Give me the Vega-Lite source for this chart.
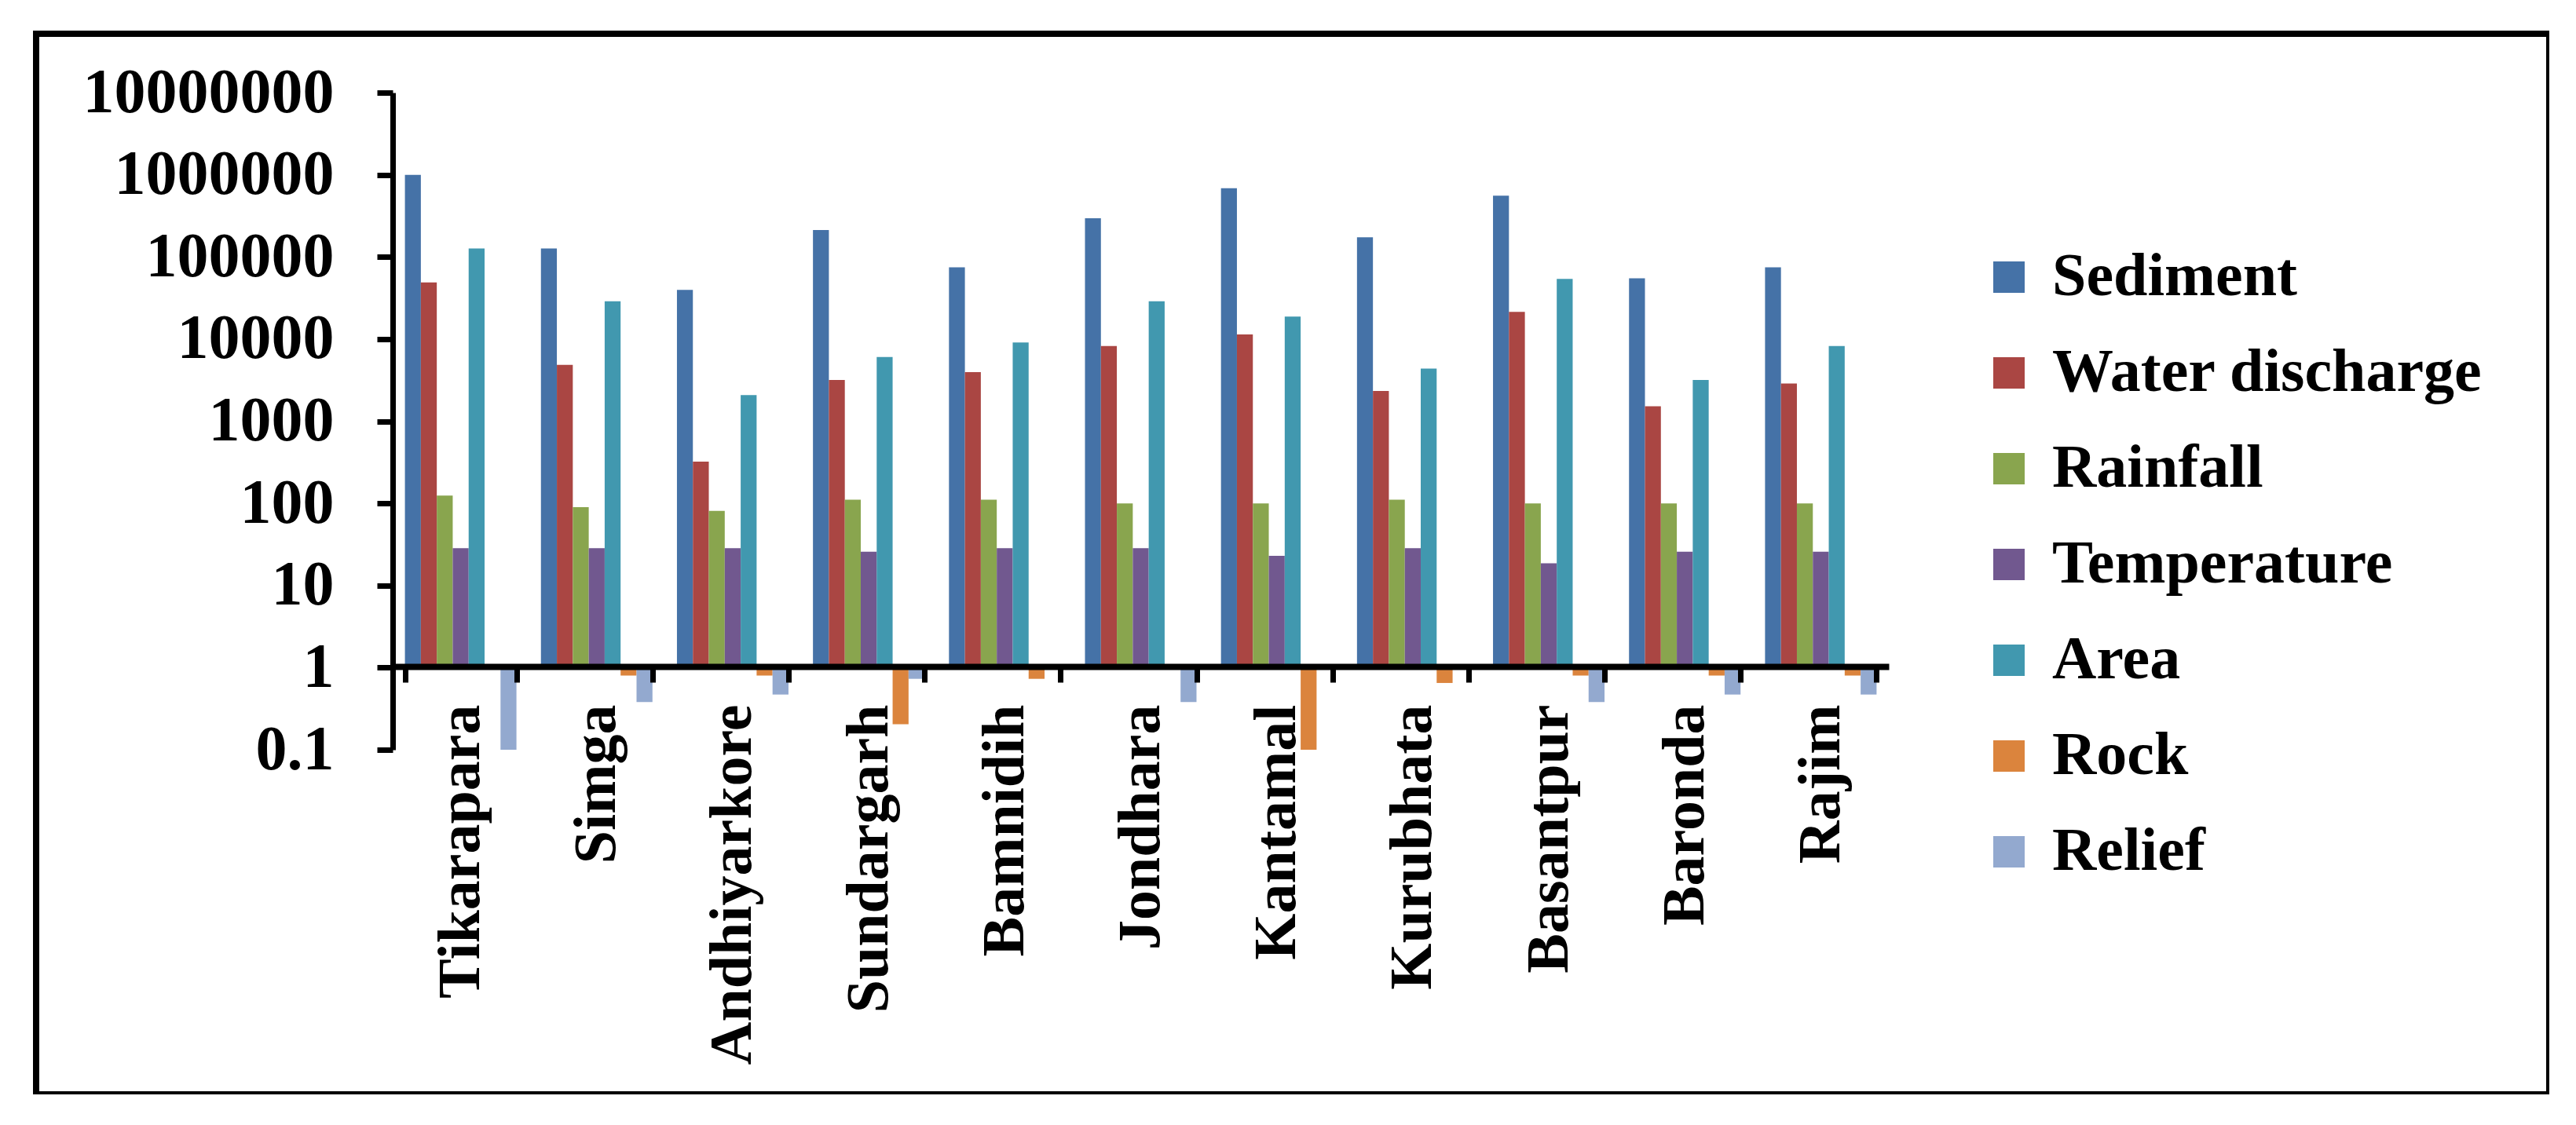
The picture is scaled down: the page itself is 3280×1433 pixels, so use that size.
{
  "$schema": "https://vega.github.io/schema/vega-lite/v6.json",
  "width": 3200,
  "height": 1351,
  "autosize": {"type": "none"},
  "padding": {"left": 46, "top": 43, "right": 0, "bottom": 0},
  "background": "white",
  "config": {"view": {"stroke": "black", "strokeWidth": 8}, "font": "Liberation Serif"},
  "data": {"values": [
    {"station": "Tikarapara", "series": "Sediment", "value": 1000000},
    {"station": "Tikarapara", "series": "Water discharge", "value": 49000},
    {"station": "Tikarapara", "series": "Rainfall", "value": 124},
    {"station": "Tikarapara", "series": "Temperature", "value": 28.5},
    {"station": "Tikarapara", "series": "Area", "value": 127000},
    {"station": "Tikarapara", "series": "Relief", "value": 0.1},
    {"station": "Simga", "series": "Sediment", "value": 127000},
    {"station": "Simga", "series": "Water discharge", "value": 4840},
    {"station": "Simga", "series": "Rainfall", "value": 90},
    {"station": "Simga", "series": "Temperature", "value": 28.5},
    {"station": "Simga", "series": "Area", "value": 28800},
    {"station": "Simga", "series": "Rock", "value": 0.8},
    {"station": "Simga", "series": "Relief", "value": 0.38},
    {"station": "Andhiyarkore", "series": "Sediment", "value": 39600},
    {"station": "Andhiyarkore", "series": "Water discharge", "value": 322},
    {"station": "Andhiyarkore", "series": "Rainfall", "value": 81},
    {"station": "Andhiyarkore", "series": "Temperature", "value": 28.5},
    {"station": "Andhiyarkore", "series": "Area", "value": 2075},
    {"station": "Andhiyarkore", "series": "Rock", "value": 0.8},
    {"station": "Andhiyarkore", "series": "Relief", "value": 0.47},
    {"station": "Sundargarh", "series": "Sediment", "value": 213000},
    {"station": "Sundargarh", "series": "Water discharge", "value": 3170},
    {"station": "Sundargarh", "series": "Rainfall", "value": 111},
    {"station": "Sundargarh", "series": "Temperature", "value": 25.7},
    {"station": "Sundargarh", "series": "Area", "value": 6050},
    {"station": "Sundargarh", "series": "Rock", "value": 0.205},
    {"station": "Sundargarh", "series": "Relief", "value": 0.73},
    {"station": "Bamnidih", "series": "Sediment", "value": 74600},
    {"station": "Bamnidih", "series": "Water discharge", "value": 3965},
    {"station": "Bamnidih", "series": "Rainfall", "value": 111},
    {"station": "Bamnidih", "series": "Temperature", "value": 28.5},
    {"station": "Bamnidih", "series": "Area", "value": 9080},
    {"station": "Bamnidih", "series": "Rock", "value": 0.73},
    {"station": "Jondhara", "series": "Sediment", "value": 295000},
    {"station": "Jondhara", "series": "Water discharge", "value": 8240},
    {"station": "Jondhara", "series": "Rainfall", "value": 100},
    {"station": "Jondhara", "series": "Temperature", "value": 28.5},
    {"station": "Jondhara", "series": "Area", "value": 28800},
    {"station": "Jondhara", "series": "Relief", "value": 0.38},
    {"station": "Kantamal", "series": "Sediment", "value": 686000},
    {"station": "Kantamal", "series": "Water discharge", "value": 11400},
    {"station": "Kantamal", "series": "Rainfall", "value": 100},
    {"station": "Kantamal", "series": "Temperature", "value": 23},
    {"station": "Kantamal", "series": "Area", "value": 18800},
    {"station": "Kantamal", "series": "Rock", "value": 0.1},
    {"station": "Kurubhata", "series": "Sediment", "value": 173000},
    {"station": "Kurubhata", "series": "Water discharge", "value": 2330},
    {"station": "Kurubhata", "series": "Rainfall", "value": 111},
    {"station": "Kurubhata", "series": "Temperature", "value": 28.5},
    {"station": "Kurubhata", "series": "Area", "value": 4370},
    {"station": "Kurubhata", "series": "Rock", "value": 0.65},
    {"station": "Basantpur", "series": "Sediment", "value": 556000},
    {"station": "Basantpur", "series": "Water discharge", "value": 21400},
    {"station": "Basantpur", "series": "Rainfall", "value": 100},
    {"station": "Basantpur", "series": "Temperature", "value": 18.6},
    {"station": "Basantpur", "series": "Area", "value": 54000},
    {"station": "Basantpur", "series": "Rock", "value": 0.8},
    {"station": "Basantpur", "series": "Relief", "value": 0.38},
    {"station": "Baronda", "series": "Sediment", "value": 54800},
    {"station": "Baronda", "series": "Water discharge", "value": 1520},
    {"station": "Baronda", "series": "Rainfall", "value": 100},
    {"station": "Baronda", "series": "Temperature", "value": 25.7},
    {"station": "Baronda", "series": "Area", "value": 3170},
    {"station": "Baronda", "series": "Rock", "value": 0.8},
    {"station": "Baronda", "series": "Relief", "value": 0.47},
    {"station": "Rajim", "series": "Sediment", "value": 74600},
    {"station": "Rajim", "series": "Water discharge", "value": 2880},
    {"station": "Rajim", "series": "Rainfall", "value": 100},
    {"station": "Rajim", "series": "Temperature", "value": 25.7},
    {"station": "Rajim", "series": "Area", "value": 8240},
    {"station": "Rajim", "series": "Rock", "value": 0.8},
    {"station": "Rajim", "series": "Relief", "value": 0.47}
  ]},
  "mark": {"type": "bar"},
  "encoding": {
    "x": {
      "field": "station", "type": "nominal",
      "sort": ["Tikarapara", "Simga", "Andhiyarkore", "Sundargarh", "Bamnidih", "Jondhara", "Kantamal", "Kurubhata", "Basantpur", "Baronda", "Rajim"],
      "scale": {"range": [454, 2359], "paddingInner": 0.18, "paddingOuter": 0.09},
      "axis": {
        "title": null, "orient": "bottom", "offset": -545,
        "labelAngle": -90, "labelFont": "Liberation Serif", "labelFontWeight": "bold",
        "labelFontSize": 76, "labelColor": "black", "labelPadding": 28, "labelLimit": 1000,
        "tickBand": "extent", "tickSize": 20, "tickWidth": 7, "tickColor": "black",
        "domainColor": "black", "domainWidth": 8, "zindex": 1
      }
    },
    "xOffset": {
      "field": "series", "type": "nominal",
      "sort": ["Sediment", "Water discharge", "Rainfall", "Temperature", "Area", "Rock", "Relief"],
      "scale": {"domain": ["Sediment", "Water discharge", "Rainfall", "Temperature", "Area", "Rock", "Relief"], "paddingInner": 0, "paddingOuter": 0}
    },
    "y": {
      "field": "value", "type": "quantitative",
      "scale": {"type": "log", "domain": [0.1, 10000000], "range": [912, 75], "nice": false},
      "axis": {
        "title": null, "offset": -454,
        "values": [0.1, 1, 10, 100, 1000, 10000, 100000, 1000000, 10000000],
        "format": "~f", "labelFont": "Liberation Serif", "labelFontWeight": "bold",
        "labelFontSize": 80, "labelColor": "black", "labelPadding": 55, "labelLimit": 1000,
        "labelFlush": false, "labelOverlap": false, "labelBaseline": "middle",
        "tickSize": 20, "tickWidth": 7, "tickColor": "black",
        "domainColor": "black", "domainWidth": 7, "grid": false, "zindex": 1
      }
    },
    "y2": {"datum": 1},
    "color": {
      "field": "series", "type": "nominal",
      "scale": {
        "domain": ["Sediment", "Water discharge", "Rainfall", "Temperature", "Area", "Rock", "Relief"],
        "range": ["#4572A7", "#AA4643", "#89A54E", "#71588F", "#4198AF", "#DB843D", "#93A9CF"]
      },
      "legend": {
        "orient": "none", "legendX": 2473, "legendY": 271, "direction": "vertical",
        "title": null, "symbolType": "square", "symbolSize": 1600, "symbolStrokeWidth": 0,
        "labelFont": "Liberation Serif", "labelFontWeight": "bold", "labelFontSize": 78,
        "labelColor": "black", "rowPadding": 44, "labelOffset": 16, "labelLimit": 1000
      }
    }
  }
}
